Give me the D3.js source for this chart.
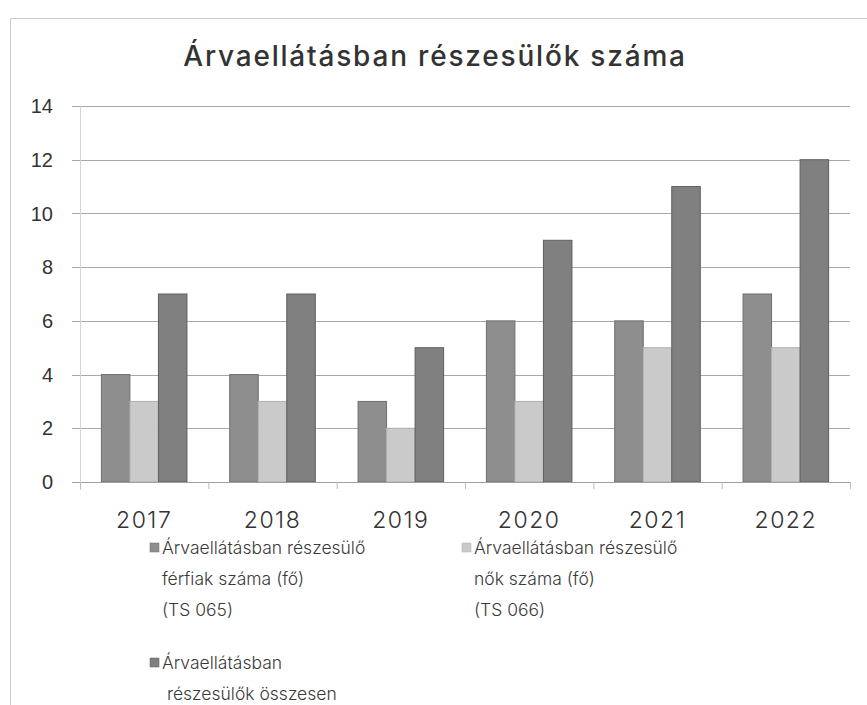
<!DOCTYPE html>
<html lang="hu">
<head>
    <meta charset="utf-8">
    <title>Árvaellátásban részesülők száma</title>
    <script src="https://d3js.org/d3.v7.min.js"></script>
    <style>
        body { margin: 0; background: #fff; }
        .grid line { stroke: #a8a8a8; stroke-width: 1px; }
        .ytick { font-family: "Liberation Sans", Arial, sans-serif; font-size: 20px; fill: #333; }
        .xtick { font-family: "Inter", "Noto Sans", sans-serif; font-size: 23px; font-weight: 300; letter-spacing: 1.5px; fill: #333; }
        .legend text { font-family: "Inter", "Noto Sans", sans-serif; font-size: 17.5px; font-weight: 300; fill: #3a3a3a; }
    </style>
</head>
<body>
    <svg id="chart"></svg>

    <script>
        var years = ["2017", "2018", "2019", "2020", "2021", "2022"];
        var men = [4, 4, 3, 6, 6, 7];
        var women = [3, 3, 2, 3, 5, 5];
        var total = [7, 7, 5, 9, 11, 12];
        var yTicks = [0, 2, 4, 6, 8, 10, 12, 14];

        var seriesNames = [
            ["Árvaellátásban részesülő", "férfiak száma (fő)", "(TS 065)"],
            ["Árvaellátásban részesülő", "nők száma (fő)", "(TS 066)"],
            ["Árvaellátásban", " részesülők összesen"]
        ];
        var colors = ["#8e8e8e", "#cacaca", "#808080"];
        var strokes = ["#6e6e6e", "#b0b0b0", "#5e5e5e"];

        var width = 867, height = 705;
        var svg = d3.select("#chart").attr("width", width).attr("height", height);

        // dotted frame
        svg.append("rect")
            .attr("x", 10.5).attr("y", 18.5)
            .attr("width", 880).attr("height", 720)
            .attr("fill", "none")
            .attr("stroke", "#999")
            .attr("stroke-dasharray", "1,1");

        svg.append("text")
            .attr("x", 435).attr("y", 66)
            .attr("text-anchor", "middle")
            .style("font-family", "Inter, 'Noto Sans', sans-serif")
            .style("font-size", "28px")
            .style("font-weight", "500")
            .style("letter-spacing", "1.8px")
            .style("fill", "#333")
            .text("Árvaellátásban részesülők száma");

        var plotLeft = 80, plotRight = 850, plotTop = 106, plotBottom = 482;

        var x = d3.scaleBand().domain(years).range([plotLeft, plotRight])
            .paddingInner(1 / 3).paddingOuter(1 / 6);
        var x1 = d3.scaleBand().domain([0, 1, 2]).range([0, x.bandwidth()]);
        var y = d3.scaleLinear().domain([0, 14]).range([plotBottom, plotTop]);

        // gridlines
        svg.append("g").attr("class", "grid")
            .selectAll("line").data(yTicks).join("line")
            .attr("x1", 72).attr("x2", plotRight)
            .attr("y1", function (d) { return Math.round(y(d)) + 0.5; })
            .attr("y2", function (d) { return Math.round(y(d)) + 0.5; });

        // vertical axis line
        svg.append("line")
            .attr("x1", plotLeft + 0.5).attr("x2", plotLeft + 0.5)
            .attr("y1", plotTop).attr("y2", plotBottom + 8)
            .attr("stroke", "#d4d4d4");

        // y labels
        svg.append("g").selectAll("text").data(yTicks).join("text")
            .attr("class", "ytick")
            .attr("x", 53)
            .attr("y", function (d) { return y(d); })
            .attr("dy", "0.36em")
            .attr("text-anchor", "end")
            .text(function (d) { return d; });

        // bars
        var seriesData = [men, women, total];
        var groups = svg.append("g").selectAll("g").data(years).join("g")
            .attr("transform", function (d) { return "translate(" + x(d) + ",0)"; });

        groups.selectAll("rect")
            .data(function (d, i) {
                return seriesData.map(function (s, k) { return { k: k, v: s[i] }; });
            })
            .join("rect")
            .attr("x", function (d) { return x1(d.k); })
            .attr("y", function (d) { return y(d.v); })
            .attr("width", x1.bandwidth())
            .attr("height", function (d) { return y(0) - y(d.v); })
            .attr("fill", function (d) { return colors[d.k]; })
            .attr("stroke", function (d) { return strokes[d.k]; })
            .attr("stroke-width", 1);

        // x axis baseline and category ticks
        svg.append("line")
            .attr("x1", 72).attr("x2", plotRight)
            .attr("y1", Math.round(y(0)) + 0.5).attr("y2", Math.round(y(0)) + 0.5)
            .attr("stroke", "#a0a0a0");

        var step = x.step();
        svg.append("g").selectAll("line").data(d3.range(years.length + 1)).join("line")
            .attr("x1", function (i) { return plotLeft + i * step + 0.5; })
            .attr("x2", function (i) { return plotLeft + i * step + 0.5; })
            .attr("y1", plotBottom).attr("y2", plotBottom + 7)
            .attr("stroke", "#bdbdbd");

        svg.append("g").selectAll("text").data(years).join("text")
            .attr("class", "xtick")
            .attr("x", function (d) { return x(d) + x.bandwidth() / 2; })
            .attr("y", 528)
            .attr("text-anchor", "middle")
            .text(function (d) { return d; });

        // legend
        var legendPos = [[150, 548], [462, 548], [150, 663]];
        var legend = svg.append("g").attr("class", "legend")
            .selectAll("g").data(seriesNames).join("g")
            .attr("transform", function (d, i) { return "translate(" + legendPos[i][0] + "," + legendPos[i][1] + ")"; });

        legend.append("rect")
            .attr("x", 0).attr("y", -5)
            .attr("width", 9).attr("height", 9)
            .attr("fill", function (d, i) { return colors[i]; })
            .attr("stroke", function (d, i) { return strokes[i]; })
            .attr("stroke-width", 0.5);

        legend.append("text")
            .attr("x", 12)
            .selectAll("tspan").data(function (d) { return d; }).join("tspan")
            .attr("x", 12)
            .attr("y", function (d, j) { return j * 31; })
            .attr("dy", "0.36em")
            .style("white-space", "pre")
            .text(function (d) { return d; });
    </script>
</body>
</html>
